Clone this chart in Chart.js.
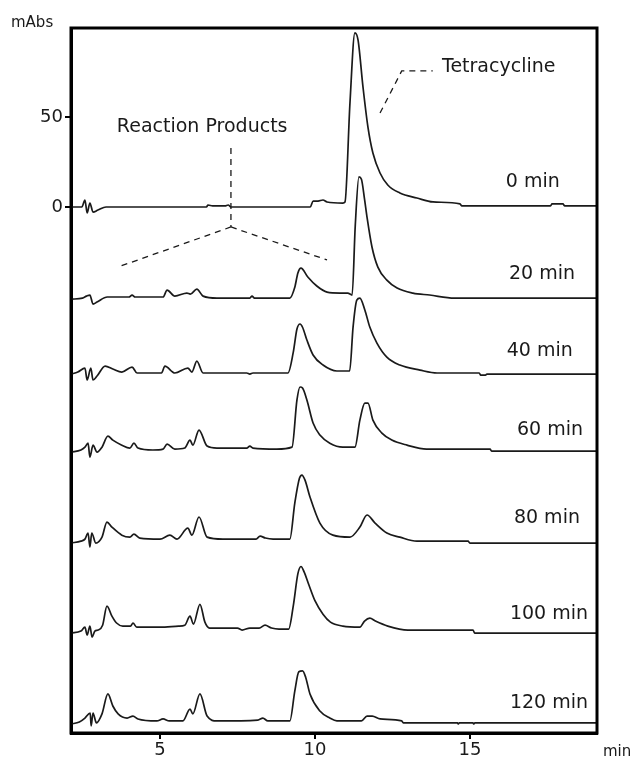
<!DOCTYPE html>
<html>
<head>
<meta charset="utf-8">
<script src="https://cdn.jsdelivr.net/npm/chart.js@4/dist/chart.umd.min.js"></script>
<style>
  html, body { margin: 0; padding: 0; background: #fff; }
  #wrap { width: 633px; height: 761px; }
</style>
</head>
<body>
<div id="wrap"><canvas id="chroma" width="633" height="761"></canvas></div>
<script>
// axis ticks
const xTicks = [5, 10, 15];
const yTicks = [0, 50];

// reaction time of each run, and where its trace is shifted (mAbs)
const runLabels = ['0 min', '20 min', '40 min', '60 min', '80 min', '100 min', '120 min'];
const offsets = [0, -50.6, -92.8, -135.6, -186.7, -236.7, -287.2];

// [retention time (min), absorbance above own baseline (mAbs)]
const trace0 = [[2.13,0],[2.48,0],[2.58,3.9],[2.65,-3.3],[2.74,2.2],[2.84,-2.8],[3.0,-1.7],[3.26,0],[6.5,0],[6.55,1.1],[6.7,0.6],[7.1,0.6],[7.2,1.1],[7.3,0],[9.85,0],[9.94,3.3],[10.1,3.3],[10.26,3.9],[10.39,2.8],[10.9,2.2],[10.97,2.8],[11.13,57.8],[11.29,96.7],[11.39,92.8],[11.55,66.7],[11.71,44.4],[11.87,30],[12.1,18.9],[12.35,12.2],[12.74,7.8],[13.29,5],[13.81,2.8],[14.68,1.7],[14.74,0.6],[17.6,0.6],[17.65,1.7],[18.0,1.7],[18.06,0.6],[19.1,0.6]];
const trace20 = [[2.13,-0.6],[2.5,0],[2.63,1.1],[2.74,1.7],[2.84,-3.3],[2.97,-2.2],[3.3,0.6],[4.0,0.6],[4.1,1.7],[4.2,0.6],[5.1,0.6],[5.23,4.4],[5.48,1.1],[5.87,2.8],[5.98,2.2],[6.19,5],[6.39,1.1],[6.84,0],[7.9,0],[7.97,1.1],[8.05,0],[9.19,0],[9.35,6],[9.45,14],[9.55,16.7],[9.77,11.7],[10.06,6.7],[10.39,3.3],[10.8,2.8],[11.06,2.8],[11.2,1.7],[11.3,40],[11.42,67.3],[11.5,66],[11.6,55],[11.68,45],[11.84,28.4],[12.03,17.2],[12.32,10],[12.65,5.6],[13.16,2.8],[13.7,1.7],[14.5,0],[19.1,0]];
const trace40 = [[2.13,0],[2.35,1.1],[2.58,3.3],[2.65,-3.3],[2.77,3.3],[2.84,-3.3],[2.97,-1.1],[3.23,4.4],[3.48,2.8],[3.77,1.1],[4.1,3.9],[4.26,0.6],[5.05,0.6],[5.16,4.4],[5.48,0.6],[5.9,3.3],[6.03,1.1],[6.19,7.2],[6.39,0.6],[7.8,0.6],[7.9,0],[8.0,0.6],[9.13,0.6],[9.3,12],[9.42,25],[9.52,27.8],[9.6,26],[9.74,18.9],[9.94,10.6],[10.26,5],[10.71,1.7],[11.12,1.7],[11.23,26.1],[11.35,41.1],[11.45,42.2],[11.61,35.6],[11.77,26.1],[12.0,17.2],[12.32,9.4],[12.74,5],[13.39,2.2],[13.94,0.6],[15.3,0.6],[15.35,-0.6],[15.5,-0.6],[15.55,0],[19.1,0]];
const trace60 = [[2.13,-0.6],[2.45,0.6],[2.58,2.2],[2.68,4.4],[2.74,-3.3],[2.84,3.3],[2.97,-0.6],[3.13,2.2],[3.32,8.3],[3.48,6.1],[3.77,3.3],[4.03,1.7],[4.16,4.4],[4.29,1.7],[4.77,0.6],[5.1,1.1],[5.23,3.9],[5.48,1.1],[5.8,1.7],[5.97,6.1],[6.06,3.3],[6.26,11.7],[6.52,2.8],[6.84,1.7],[7.8,1.7],[7.9,2.8],[8.0,1.7],[8.77,1.1],[9.26,2.2],[9.42,28.4],[9.52,35.6],[9.6,35],[9.74,28.4],[9.94,15.6],[10.16,8.9],[10.48,4.4],[10.9,2.2],[11.29,2.2],[11.45,17.2],[11.61,26.7],[11.71,26.7],[11.87,17.2],[12.16,10],[12.48,6.1],[12.97,3.3],[13.6,1.1],[15.65,1.1],[15.7,0],[19.1,0]];
const trace80 = [[2.13,0],[2.45,1.1],[2.58,2.2],[2.68,5.6],[2.74,-2.2],[2.8,5.6],[2.93,0],[3.13,3.3],[3.29,11.7],[3.45,8.9],[3.77,4.4],[4.03,3.3],[4.16,5],[4.35,2.8],[5.0,2.2],[5.32,4.4],[5.55,2.2],[5.9,8.3],[6.03,4.4],[6.26,14.5],[6.52,3.3],[7.03,2.2],[8.1,2.2],[8.23,3.9],[8.4,2.8],[8.65,2.2],[9.19,2.2],[9.35,22.2],[9.5,36],[9.58,37.8],[9.68,35],[9.84,25.6],[10.16,11.1],[10.58,4.4],[11.13,3.3],[11.45,8.9],[11.68,15.6],[11.94,11.1],[12.32,5.6],[12.74,3.3],[13.29,1.1],[14.94,1.1],[15.0,0],[19.1,0]];
const trace100 = [[2.13,0],[2.45,1.1],[2.58,3.3],[2.65,-1.1],[2.74,3.9],[2.81,-2.2],[2.9,1.1],[3.0,1.7],[3.15,4.4],[3.29,15],[3.45,9.4],[3.6,5.6],[3.8,3.9],[4.05,3.9],[4.13,5.6],[4.25,3.3],[5.0,3.3],[5.6,3.9],[5.8,4.4],[5.97,9.4],[6.08,5],[6.29,16],[6.45,6.1],[6.6,2.8],[7.5,2.8],[7.65,1.7],[7.9,2.8],[8.2,2.8],[8.39,4.4],[8.6,2.8],[8.84,2.2],[9.15,2.2],[9.3,15],[9.45,33],[9.55,37],[9.65,34],[9.8,27],[10.0,18],[10.26,10.5],[10.5,6.1],[10.9,3.9],[11.45,3.3],[11.6,6.7],[11.77,8.3],[11.95,6.7],[12.35,3.9],[13.0,1.7],[15.1,1.7],[15.15,0],[19.1,0]];
const trace120 = [[2.13,0],[2.4,1.1],[2.58,3.3],[2.75,6.1],[2.78,-1.1],[2.84,6.1],[2.95,0.6],[3.13,5.6],[3.32,16.7],[3.48,10],[3.65,5.6],[3.94,3.3],[4.13,4.4],[4.29,2.8],[4.9,1.7],[5.1,2.8],[5.3,1.7],[5.74,1.7],[5.97,8.3],[6.06,5.6],[6.29,16.7],[6.52,4.4],[6.84,1.7],[8.16,2.2],[8.32,3.3],[8.48,1.7],[9.19,1.7],[9.35,18.3],[9.48,29],[9.6,29.5],[9.7,26],[9.84,16.7],[10.16,7.2],[10.48,3.3],[10.71,1.7],[11.5,1.7],[11.68,4.4],[11.85,4.4],[12.1,2.8],[12.8,1.7],[12.85,0.6],[14.6,0.6],[14.62,0],[14.66,0.6],[15.1,0.6],[15.12,0],[15.16,0.6],[19.1,0.6]];

const traces = [trace0, trace20, trace40, trace60, trace80, trace100, trace120];

// run label anchors: right edge time, centre in mAbs
const labelX = [17.9, 18.39, 18.32, 18.65, 18.55, 18.81, 18.81];
const labelY = [13.9, -37.2, -80, -123.9, -172.8, -226, -275.6];

const FONT = '"DejaVu Sans", sans-serif';
const INK = '#1a1a1a';

const datasets = traces.map((tr, i) => ({
  label: runLabels[i],
  data: tr.map(p => ({ x: p[0], y: p[1] + offsets[i] })),
  borderColor: INK,
  borderWidth: 1.7,
  pointRadius: 0,
  cubicInterpolationMode: 'monotone',
  fill: false
}));

const annotatePlugin = {
  id: 'annotate',
  afterDraw(chart) {
    const { ctx, chartArea: a, scales: { x, y } } = chart;
    const px = v => x.getPixelForValue(v);
    const py = v => y.getPixelForValue(v);
    ctx.save();

    // frame
    ctx.strokeStyle = '#000';
    ctx.lineWidth = 3;
    ctx.strokeRect(a.left, a.top, a.right - a.left, a.bottom - a.top);

    // dashed pointers
    ctx.lineWidth = 1.3;
    ctx.strokeStyle = INK;
    ctx.setLineDash([6, 5]);
    const seg = pts => {
      ctx.beginPath();
      pts.forEach((p, k) => k ? ctx.lineTo(px(p[0]), py(p[1])) : ctx.moveTo(px(p[0]), py(p[1])));
      ctx.stroke();
    };
    seg([[7.29, 32.8], [7.29, -11.1]]);
    seg([[7.29, -11.1], [3.65, -33.3]]);
    seg([[7.29, -11.1], [10.39, -29.4]]);
    seg([[12.1, 52.2], [12.8, 75.6], [13.8, 75.6]]);
    ctx.setLineDash([]);

    ctx.fillStyle = INK;
    ctx.textBaseline = 'middle';
    ctx.font = '19px ' + FONT;
    ctx.textAlign = 'left';
    ctx.fillText('Reaction Products', px(3.61), py(44.4));
    ctx.fillText('Tetracycline', px(14.1), py(77.8));

    ctx.textAlign = 'right';
    runLabels.forEach((t, i) => ctx.fillText(t, px(labelX[i]), py(labelY[i])));

    // unit labels
    ctx.font = '15px ' + FONT;
    ctx.textAlign = 'left';
    ctx.fillText('mAbs', a.left - 60, a.top - 5);
    ctx.fillText('min', a.right + 6, a.bottom + 19);
    ctx.restore();
  }
};

new Chart('chroma', {
  type: 'line',
  data: { datasets },
  options: {
    responsive: false,
    animation: false,
    layout: { padding: { top: 28, right: 36, left: 0, bottom: 0 } },
    plugins: { legend: { display: false }, tooltip: { enabled: false } },
    scales: {
      x: {
        type: 'linear',
        min: 2.13,
        max: 19.1,
        afterBuildTicks: s => { s.ticks = xTicks.map(v => ({ value: v })); },
        afterFit: s => { s.height = 28; },
        grid: { drawOnChartArea: false, drawTicks: true, tickLength: 6, color: '#000', lineWidth: 2 },
        border: { display: true, color: '#000', width: 3 },
        ticks: { color: INK, font: { family: FONT, size: 18 }, padding: 1, maxRotation: 0 }
      },
      y: {
        type: 'linear',
        min: -292.2,
        max: 99.44,
        afterBuildTicks: s => { s.ticks = yTicks.map(v => ({ value: v })); },
        afterFit: s => { s.width = 71; },
        grid: { drawOnChartArea: false, drawTicks: true, tickLength: 6, color: '#000', lineWidth: 2 },
        border: { display: true, color: '#000', width: 3 },
        ticks: { color: INK, font: { family: FONT, size: 18 }, padding: 2 }
      }
    }
  },
  plugins: [annotatePlugin]
});
</script>
</body>
</html>
